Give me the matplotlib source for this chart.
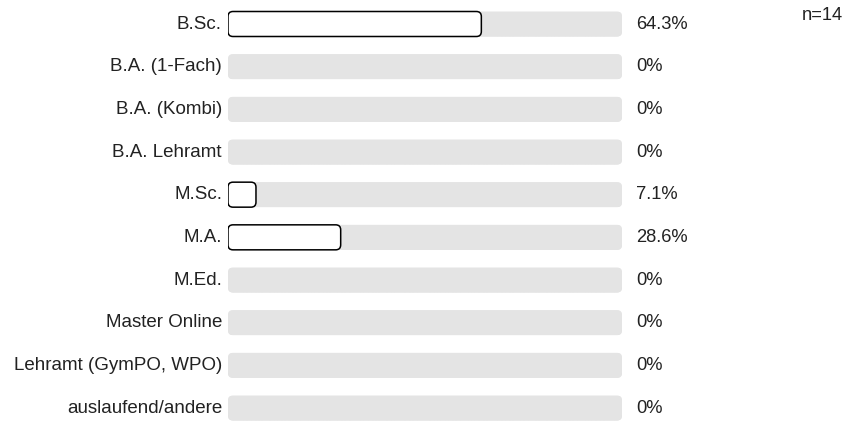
import matplotlib
matplotlib.use("Agg")
import matplotlib.pyplot as plt
import numpy as np
from matplotlib.patches import FancyBboxPatch

categories = ["B.Sc.", "B.A. (1-Fach)", "B.A. (Kombi)", "B.A. Lehramt", "M.Sc.", "M.A.",
              "M.Ed.", "Master Online", "Lehramt (GymPO, WPO)", "auslaufend/andere"]
values = [64.3, 0, 0, 0, 7.1, 28.6, 0, 0, 0, 0]
value_labels = ["64.3%", "0%", "0%", "0%", "7.1%", "28.6%", "0%", "0%", "0%", "0%"]
n_label = "n=14"

plt.rcParams['font.family'] = ['Liberation Sans', 'DejaVu Sans']

W, H = 859, 421
fig = plt.figure(figsize=(W / 100, H / 100), dpi=100)
x0, x1 = 228, 622
ax = fig.add_axes([x0 / W, 0, (x1 - x0) / W, 1])
step = (408 - 24) / 9
ax.set_xlim(0, 100)
ax.set_ylim(9 + (H - 408) / step, -24 / step)
ax.axis('off')

pxx = (x1 - x0) / 100
aspect = pxx / step
r = 5 / pxx
h = 25 / step

grad = np.linspace(0.925, 0.875, 32).reshape(-1, 1)

for i, (cat, v, lab) in enumerate(zip(categories, values, value_labels)):
    bg = FancyBboxPatch((0, i - h / 2), 100, h, boxstyle=f"round,pad=0,rounding_size={r}",
                        mutation_aspect=aspect, facecolor="#e4e4e4", edgecolor="none")
    ax.add_patch(bg)
    im = ax.imshow(grad, cmap='gray', vmin=0, vmax=1, aspect='auto',
                   extent=(0, 100, i + h / 2, i - h / 2), interpolation='bilinear')
    im.set_clip_path(bg)
    if v > 0:
        fg = FancyBboxPatch((0, i - h / 2), v, h, boxstyle=f"round,pad=0,rounding_size={r}",
                            mutation_aspect=aspect, facecolor="white", edgecolor="black",
                            linewidth=1.1, zorder=3)
        ax.add_patch(fg)
    ax.text(-6 / pxx, i, cat, ha='right', va='center', fontsize=13.5, color='#222222')
    ax.text(100 + 14 / pxx, i, lab, ha='left', va='center', fontsize=13.2, color='#222222')

ax.set_xlim(0, 100)
ax.set_ylim(9 + (H - 408) / step, -24 / step)

fig.text(802 / W, 1 - 16 / H, n_label, ha='left', va='center', fontsize=13.2, color='#222222')

fig.savefig("out.png", dpi=100)
